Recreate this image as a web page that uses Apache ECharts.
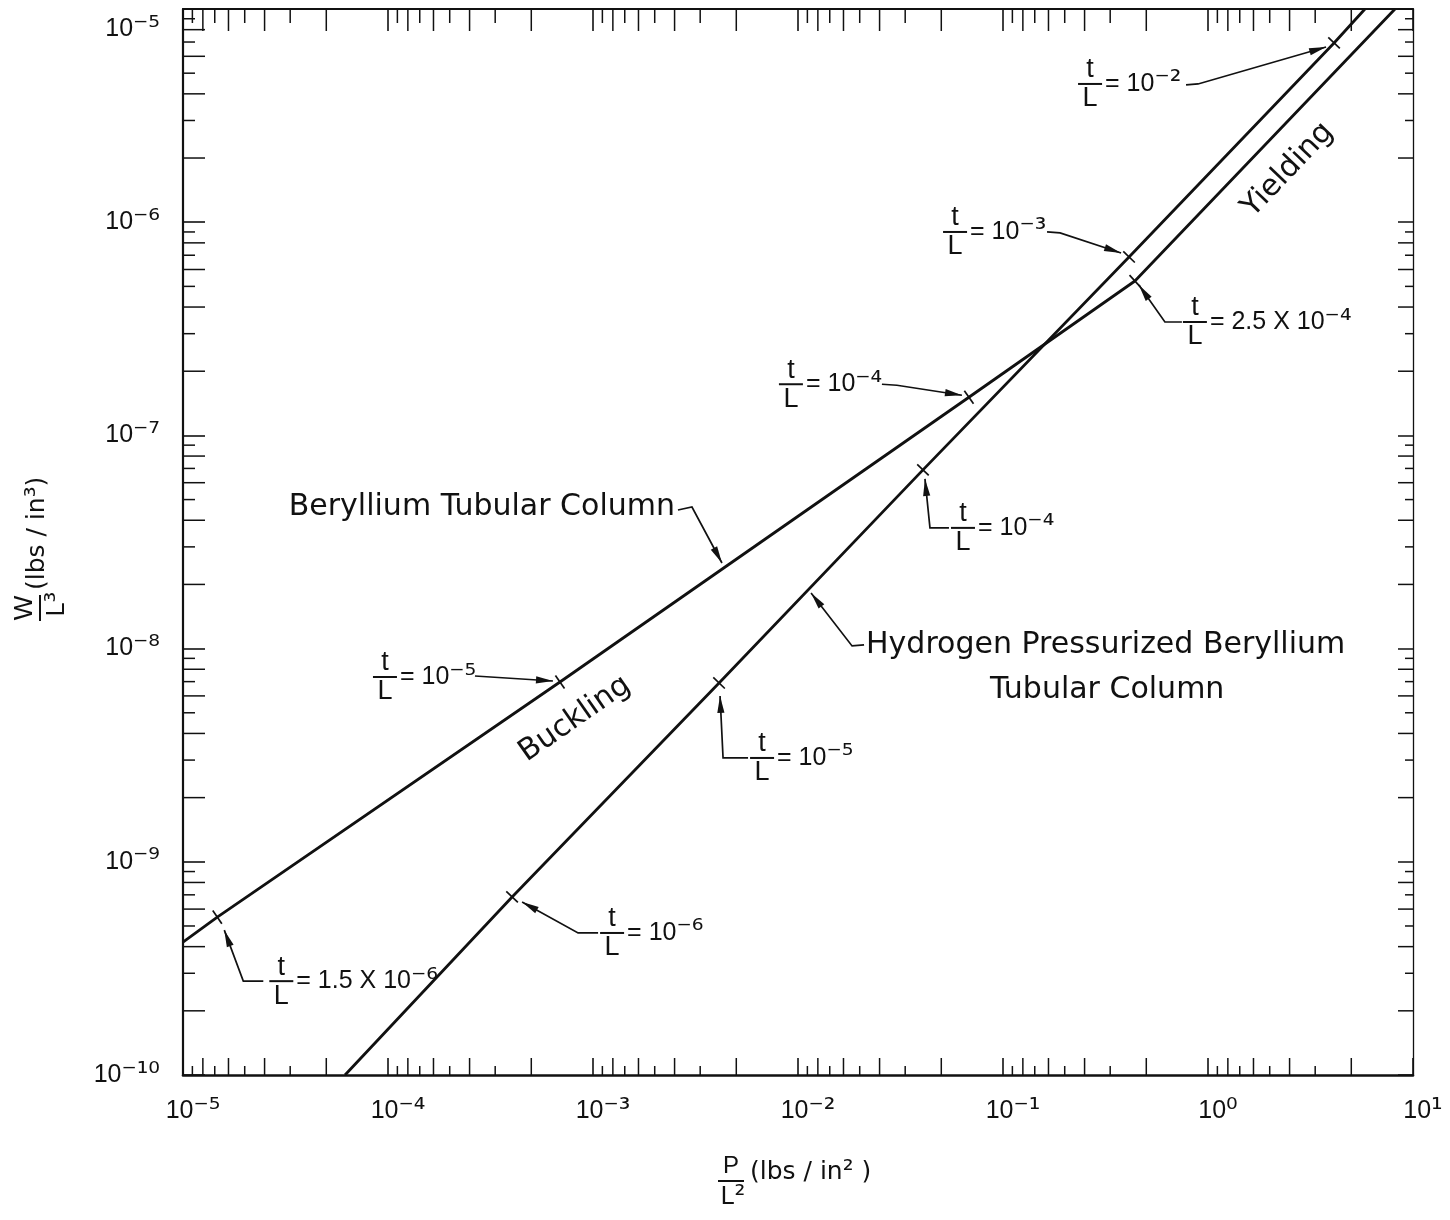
<!DOCTYPE html>
<html>
<head>
<meta charset="utf-8">
<script src="https://cdn.jsdelivr.net/npm/echarts@6/dist/echarts.min.js"></script>
<style>
html,body{margin:0;padding:0;background:#fff;}
#chart{width:1450px;height:1220px;}
</style>
</head>
<body>
<div id="chart"></div>
<script>
// ---------------- data ----------------
const xExpMin = -5, xExpMax = 1;     // P/L^2 decades shown
const yExpMin = -10, yExpMax = -5;   // W/L^3 decades shown

// Beryllium tubular column (buckling branch, then yielding branch)
const berylliumP = [1.0e-5, 1.47e-5, 6.9e-4, 0.0682, 0.44, 8.17];
const berylliumW = [4.2e-10, 5.5e-10, 6.97e-9, 1.51e-7, 5.3e-7, 1.0e-5];
// Hydrogen pressurized beryllium tubular column
const hydrogenP = [6.17e-5, 4.03e-4, 4.12e-3, 0.0407, 0.412, 4.12, 5.83];
const hydrogenW = [1.0e-10, 6.84e-10, 6.9e-9, 6.89e-8, 6.87e-7, 6.93e-6, 1.0e-5];

// t/L marks on each curve (index into the curve arrays, coefficient, exponent)
const berylliumMarkIndex = [1, 2, 3, 4];
const berylliumTLCoef = ['1.5', '1', '1', '2.5'];
const berylliumTLExp = [-6, -5, -4, -4];
const hydrogenMarkIndex = [1, 2, 3, 4, 5];
const hydrogenTLCoef = ['1', '1', '1', '1', '1'];
const hydrogenTLExp = [-6, -5, -4, -3, -2];

const seriesNames = ['Beryllium Tubular Column', 'Hydrogen Pressurized Beryllium\nTubular Column'];
const regimeNames = ['Buckling', 'Yielding'];
const xTitle = { num: 'P', den: 'L', denExp: 2, unit: '(lbs / in', unitExp: 2, tail: ' )' };
const yTitle = { num: 'W', den: 'L', denExp: 3, unit: '(lbs / in', unitExp: 3, tail: ')' };

// ---------------- layout (pixel offsets of callouts from their mark) ----------------
const calloutLayout = {
  B: [
    { frac: [64, 64],    path: [[46, 64], [26, 64], [7, 13]] },
    { frac: [-175, -5],  path: [[-85, -6], [-7, -1]] },
    { frac: [-178, -13], path: [[-87, -13], [-72, -12], [-7, -2]] },
    { frac: [60, 41],    path: [[47, 41], [30, 41], [4, 4]] }
  ],
  H: [
    { frac: [100, 36],   path: [[86, 36], [66, 36], [10, 5]] },
    { frac: [43, 75],    path: [[29, 75], [4, 75], [1, 13]] },
    { frac: [40, 58],    path: [[26, 58], [7, 58], [2, 9]] },
    { frac: [-174, -25], path: [[-82, -25], [-69, -24], [-8, -4]] },
    { frac: [-244, 41],  path: [[-148, 42], [-136, 41], [-8, 4]] }
  ]
};

const wordFont = '"DejaVu Sans", sans-serif';
const mathFont = '"Liberation Sans", Arial, sans-serif';
const supFont = '"DejaVu Sans", sans-serif';
const INK = '#111';

const SUP = { '0': '\u2070', '1': '\u00B9', '2': '\u00B2', '3': '\u00B3', '4': '\u2074', '5': '\u2075',
  '6': '\u2076', '7': '\u2077', '8': '\u2078', '9': '\u2079', '-': '\u207B' };
function supStr(e) { return String(e).split('').map(ch => SUP[ch] || ch).join(''); }

// ---------------- build callouts ----------------
const callouts = [];
berylliumMarkIndex.forEach((idx, k) => callouts.push({
  P: berylliumP[idx], W: berylliumW[idx],
  prev: [berylliumP[idx - 1], berylliumW[idx - 1]], next: [berylliumP[idx + 1], berylliumW[idx + 1]],
  coef: berylliumTLCoef[k], exp: berylliumTLExp[k], lay: calloutLayout.B[k]
}));
hydrogenMarkIndex.forEach((idx, k) => callouts.push({
  P: hydrogenP[idx], W: hydrogenW[idx],
  prev: [hydrogenP[idx - 1], hydrogenW[idx - 1]], next: [hydrogenP[idx + 1], hydrogenW[idx + 1]],
  coef: hydrogenTLCoef[k], exp: hydrogenTLExp[k], lay: calloutLayout.H[k]
}));

const annRich = {
  m: { fontSize: 25, fontFamily: mathFont, fill: INK },
  s: { fontSize: 29, fontFamily: supFont, fill: INK }
};

function fractionEls(cx, cy, num, den, size) {
  return [
    { type: 'text', x: cx, y: cy - 14, style: { text: num, font: size + 'px ' + mathFont, fill: INK, align: 'center', verticalAlign: 'middle' } },
    { type: 'line', shape: { x1: cx - 12, y1: cy, x2: cx + 12, y2: cy }, style: { stroke: INK, lineWidth: 2 } },
    { type: 'text', x: cx, y: cy + 15, style: { text: den, font: size + 'px ' + mathFont, fill: INK, align: 'center', verticalAlign: 'middle' } }
  ];
}

function arrowEls(pts) {
  const els = [{ type: 'polyline', shape: { points: pts }, style: { stroke: INK, lineWidth: 1.7, fill: 'none' } }];
  const T = pts[pts.length - 1], E = pts[pts.length - 2];
  let ux = T[0] - E[0], uy = T[1] - E[1];
  const ul = Math.hypot(ux, uy); ux /= ul; uy /= ul;
  const L = 17, w = 3.6;
  els.push({ type: 'polygon', shape: { points: [
    [T[0], T[1]],
    [T[0] - ux * L - uy * w, T[1] - uy * L + ux * w],
    [T[0] - ux * L + uy * w, T[1] - uy * L - ux * w]
  ] }, style: { fill: INK } });
  return els;
}

function renderCallout(params, api) {
  const c = callouts[params.dataIndex];
  const p = api.coord([api.value(0), api.value(1)]);
  const pa = api.coord(c.prev), pb = api.coord(c.next);
  let dx = pb[0] - pa[0], dy = pb[1] - pa[1];
  const len = Math.hypot(dx, dy); dx /= len; dy /= len;
  const nx = -dy, ny = dx;
  const children = [];
  children.push({ type: 'line', shape: { x1: p[0] - nx * 8, y1: p[1] - ny * 8, x2: p[0] + nx * 8, y2: p[1] + ny * 8 }, style: { stroke: INK, lineWidth: 1.7 } });
  const pts = c.lay.path.map(o => [p[0] + o[0], p[1] + o[1]]);
  children.push(...arrowEls(pts));
  const cx = p[0] + c.lay.frac[0], cy = p[1] + c.lay.frac[1];
  children.push(...fractionEls(cx, cy, 't', 'L', 27));
  const body = c.coef === '1' ? '= 10' : '= ' + c.coef + ' X 10';
  children.push({ type: 'text', x: cx + 15, y: cy, style: { text: '{m|' + body + '}{s|' + supStr(c.exp) + '}', align: 'left', verticalAlign: 'middle', fill: INK, rich: annRich } });
  return { type: 'group', children: children };
}

// ---------------- curve names and regime labels ----------------
const nameItems = [
  { anchor: [berylliumP[2], berylliumW[2]], kind: 'nameB' },
  { anchor: [hydrogenP[2], hydrogenW[2]], kind: 'nameH' },
  { anchor: [berylliumP[2], berylliumW[2]], kind: 'regime', text: regimeNames[0], seg: [[berylliumP[2], berylliumW[2]], [berylliumP[4], berylliumW[4]]], off: [15, 37] },
  { anchor: [berylliumP[4], berylliumW[4]], kind: 'regime', text: regimeNames[1], seg: [[berylliumP[4], berylliumW[4]], [berylliumP[5], berylliumW[5]]], off: [153, -111] }
];

function renderName(params, api) {
  const it = nameItems[params.dataIndex];
  const p = api.coord([api.value(0), api.value(1)]);
  const font = '30px ' + wordFont;
  if (it.kind === 'nameB') {
    const ch = [{ type: 'text', x: p[0] + 115, y: p[1] - 175, style: { text: seriesNames[0], font: font, fill: INK, align: 'right', verticalAlign: 'middle' } }];
    ch.push(...arrowEls([[p[0] + 118, p[1] - 172], [p[0] + 132, p[1] - 175], [p[0] + 162, p[1] - 119]]));
    return { type: 'group', children: ch };
  }
  if (it.kind === 'nameH') {
    const lines = seriesNames[1].split('\n');
    const ch = [
      { type: 'text', x: p[0] + 147, y: p[1] - 38, style: { text: lines[0], font: font, fill: INK, align: 'left', verticalAlign: 'middle' } },
      { type: 'text', x: p[0] + 271, y: p[1] + 7, style: { text: lines[1], font: font, fill: INK, align: 'left', verticalAlign: 'middle' } }
    ];
    ch.push(...arrowEls([[p[0] + 145, p[1] - 38], [p[0] + 133, p[1] - 37], [p[0] + 92, p[1] - 90]]));
    return { type: 'group', children: ch };
  }
  const a = api.coord(it.seg[0]), b = api.coord(it.seg[1]);
  const ang = Math.atan2(-(b[1] - a[1]), b[0] - a[0]);
  return { type: 'text', x: p[0] + it.off[0], y: p[1] + it.off[1], rotation: ang,
    style: { text: it.text, font: font, fill: INK, align: 'center', verticalAlign: 'middle' } };
}

// ---------------- minor ticks (log paper: x subdivisions mirrored) ----------------
const minorTickData = [];
for (let d = xExpMin; d < xExpMax; d++) for (let k = 2; k <= 9; k++) minorTickData.push([Math.pow(10, d) * 10 / k, Math.pow(10, yExpMin), 0, k]);
for (let d = yExpMin; d < yExpMax; d++) for (let k = 2; k <= 9; k++) minorTickData.push([Math.pow(10, xExpMin), Math.pow(10, d) * k, 1, k]);

function renderMinor(params, api) {
  const r = params.coordSys;
  const k = api.value(3), even = k % 2 === 0;
  const st = { stroke: INK, lineWidth: 1.5 };
  if (api.value(2) === 0) {
    const px = api.coord([api.value(0), Math.pow(10, yExpMin)])[0];
    const yb = r.y + r.height, yt = r.y;
    return { type: 'group', children: [
      { type: 'line', shape: { x1: px, y1: yb, x2: px, y2: yb - (even ? 17 : 9) }, style: st },
      { type: 'line', shape: { x1: px, y1: yt, x2: px, y2: yt + (even ? 22 : 14) }, style: st }
    ] };
  }
  const py = api.coord([Math.pow(10, xExpMin), api.value(1)])[1];
  const xl = r.x, xr = r.x + r.width;
  return { type: 'group', children: [
    { type: 'line', shape: { x1: xl, y1: py, x2: xl + (even ? 22 : 12), y2: py }, style: st },
    { type: 'line', shape: { x1: xr, y1: py, x2: xr - (even ? 15 : 8), y2: py }, style: st }
  ] };
}

// ---------------- axis labels ----------------
const labRich = {
  sp: { width: 20, fontSize: 10 },
  b: { fontSize: 25, fontFamily: mathFont, color: INK },
  s: { fontSize: 29, fontFamily: supFont, color: INK },
  bt: { fontSize: 25, fontFamily: mathFont, color: INK, padding: [40, 0, 0, 0] },
  st: { fontSize: 29, fontFamily: supFont, color: INK, padding: [40, 0, 0, 0] }
};
function xLabel(v) { const e = Math.round(Math.log10(v)); return '{sp| }{b|10}{s|' + supStr(e) + '}'; }
function yLabel(v) {
  const e = Math.round(Math.log10(v));
  return e === yExpMax ? '{bt|10}{st|' + supStr(e) + '}' : '{b|10}{s|' + supStr(e) + '}';
}

const xMin = Math.pow(10, xExpMin), xMax = Math.pow(10, xExpMax);
const yMin = Math.pow(10, yExpMin), yMax = Math.pow(10, yExpMax);

const chart = echarts.init(document.getElementById('chart'), null, { renderer: 'canvas', width: 1450, height: 1220 });

const titleRich = {
  a: { fontSize: 25, fontFamily: mathFont, fill: INK },
  s: { fontSize: 27, fontFamily: supFont, fill: INK },
  u: { fontSize: 25, fontFamily: wordFont, fill: INK },
  us: { fontSize: 27, fontFamily: supFont, fill: INK }
};

const option = {
  animation: false,
  backgroundColor: '#fff',
  grid: { left: 183, right: 37, top: 9, bottom: 145, containLabel: false, outerBoundsMode: 'none' },
  xAxis: [
    { type: 'log', logBase: 10, min: xMin, max: xMax, position: 'bottom',
      axisLine: { show: true, lineStyle: { color: INK, width: 2.6 } },
      axisTick: { show: true, inside: true, length: 17, lineStyle: { color: INK, width: 1.6 } },
      axisLabel: { show: true, margin: 22, formatter: xLabel, rich: labRich, align: 'center' },
      splitLine: { show: false }, minorTick: { show: false } },
    { type: 'log', logBase: 10, min: xMin, max: xMax, position: 'top',
      axisLine: { show: true, lineStyle: { color: INK, width: 2.2 } },
      axisTick: { show: true, inside: true, length: 22, lineStyle: { color: INK, width: 1.6 } },
      axisLabel: { show: false }, splitLine: { show: false } }
  ],
  yAxis: [
    { type: 'log', logBase: 10, min: yMin, max: yMax, position: 'left',
      axisLine: { show: true, lineStyle: { color: INK, width: 2.2 } },
      axisTick: { show: true, inside: true, length: 22, lineStyle: { color: INK, width: 1.6 } },
      axisLabel: { show: true, margin: 23, formatter: yLabel, rich: labRich },
      splitLine: { show: false }, minorTick: { show: false } },
    { type: 'log', logBase: 10, min: yMin, max: yMax, position: 'right',
      axisLine: { show: true, lineStyle: { color: INK, width: 1.3 } },
      axisTick: { show: true, inside: true, length: 15, lineStyle: { color: INK, width: 1.5 } },
      axisLabel: { show: false }, splitLine: { show: false } }
  ],
  series: [
    { name: 'minor ticks', type: 'custom', xAxisIndex: 0, yAxisIndex: 0, data: minorTickData, renderItem: renderMinor, clip: false, silent: true, z: 1 },
    { name: seriesNames[0], type: 'line', xAxisIndex: 0, yAxisIndex: 0,
      data: berylliumP.map((p, i) => [p, berylliumW[i]]), showSymbol: false, symbol: 'none',
      lineStyle: { color: INK, width: 2.8 }, z: 3 },
    { name: seriesNames[1], type: 'line', xAxisIndex: 0, yAxisIndex: 0,
      data: hydrogenP.map((p, i) => [p, hydrogenW[i]]), showSymbol: false, symbol: 'none',
      lineStyle: { color: INK, width: 2.8 }, z: 3 },
    { name: 't/L callouts', type: 'custom', xAxisIndex: 0, yAxisIndex: 0,
      data: callouts.map(c => [c.P, c.W]), renderItem: renderCallout, clip: false, silent: true, z: 4 },
    { name: 'curve labels', type: 'custom', xAxisIndex: 0, yAxisIndex: 0,
      data: nameItems.map(it => it.anchor), renderItem: renderName, clip: false, silent: true, z: 4 }
  ],
  graphic: [
    { type: 'group', x: 731, y: 1181, children: [
      { type: 'text', x: 0, y: -15, style: { text: xTitle.num, font: '24px ' + mathFont, fill: INK, align: 'center', verticalAlign: 'middle' } },
      { type: 'line', shape: { x1: -13, y1: 0, x2: 13, y2: 0 }, style: { stroke: INK, lineWidth: 2 } },
      { type: 'text', x: 2, y: 16, style: { text: '{a|' + xTitle.den + '}{s|' + supStr(xTitle.denExp) + '}', align: 'center', verticalAlign: 'middle', fill: INK, rich: titleRich } },
      { type: 'text', x: 19, y: -9, style: { text: '{u|' + xTitle.unit + '}{us|' + supStr(xTitle.unitExp) + '}{u|' + xTitle.tail + '}', align: 'left', verticalAlign: 'middle', fill: INK, rich: titleRich } }
    ] },
    { type: 'group', x: 40, y: 608, rotation: Math.PI / 2, children: [
      { type: 'text', x: 0, y: -15, style: { text: yTitle.num, font: '26px ' + mathFont, fill: INK, align: 'center', verticalAlign: 'middle' } },
      { type: 'line', shape: { x1: -13, y1: 0, x2: 13, y2: 0 }, style: { stroke: INK, lineWidth: 2 } },
      { type: 'text', x: 4, y: 17, style: { text: '{a|' + yTitle.den + '}{s|' + supStr(yTitle.denExp) + '}', align: 'center', verticalAlign: 'middle', fill: INK, rich: titleRich } },
      { type: 'text', x: 18, y: -3, style: { text: '{u|' + yTitle.unit + '}{us|' + supStr(yTitle.unitExp) + '}{u|' + yTitle.tail + '}', align: 'left', verticalAlign: 'middle', fill: INK, rich: titleRich } }
    ] }
  ]
};
chart.setOption(option);
</script>
</body>
</html>
